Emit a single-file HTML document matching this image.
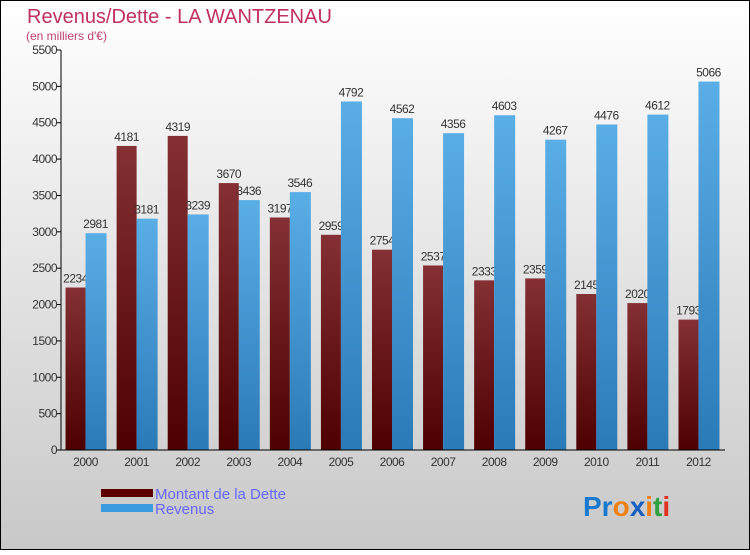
<!DOCTYPE html>
<html><head><meta charset="utf-8"><style>
body{margin:0}
svg text{font-family:"Liberation Sans",sans-serif}
</style></head><body>
<svg id="c" width="750" height="550" xmlns="http://www.w3.org/2000/svg">
<defs>
<linearGradient id="bg" x1="0" y1="0" x2="0" y2="1"><stop offset="0" stop-color="#ffffff"/><stop offset="1" stop-color="#c8c8c8"/></linearGradient>
<linearGradient id="gd" x1="0" y1="0" x2="0" y2="1"><stop offset="0" stop-color="#843034"/><stop offset="1" stop-color="#4e0000"/></linearGradient>
<linearGradient id="gr" x1="0" y1="0" x2="0" y2="1"><stop offset="0" stop-color="#5aaee6"/><stop offset="1" stop-color="#2a7ab8"/></linearGradient>
</defs>
<rect x="0.5" y="0.5" width="749" height="549" fill="url(#bg)" stroke="#000"/>
<text x="27" y="23" font-size="20" fill="#c03060">Revenus/Dette - LA WANTZENAU</text>
<text x="26" y="40" font-size="12" fill="#c04070">(en milliers d'€)</text>
<g id="plot"></g>
<g>
<rect x="101" y="489" width="52" height="8" fill="#5a0000"/>
<text x="155" y="499" font-size="15" fill="#6666ff">Montant de la Dette</text>
<rect x="101" y="504" width="52" height="8" fill="#3a9ae0"/>
<text x="155" y="514" font-size="15" fill="#6666ff">Revenus</text>
</g>
<text x="583" y="516" font-size="28" font-weight="bold"><tspan fill="#1a7ad0">Pr</tspan><tspan fill="#f08010">o</tspan><tspan fill="#1a60c0">x</tspan><tspan fill="#f08010">i</tspan><tspan fill="#30a040">t</tspan><tspan fill="#e03020">i</tspan></text>
</svg>
<script>
const years=["2000","2001","2002","2003","2004","2005","2006","2007","2008","2009","2010","2011","2012"];
const debt=[2234,4181,4319,3670,3197,2959,2754,2537,2333,2359,2145,2020,1793];
const revenue=[2981,3181,3239,3436,3546,4792,4562,4356,4603,4267,4476,4612,5066];
const yTicks=[0,500,1000,1500,2000,2500,3000,3500,4000,4500,5000,5500];
const NS="http://www.w3.org/2000/svg";
const g=document.getElementById('plot');
const x0=61,x1=725,yb=450,yt=50,ymax=5500;
const y=v=>yb-(v/ymax)*(yb-yt);
const step=(x1-x0)/years.length;
const cx=i=>x0+step*(i+0.5)-1;
const bw=20;
function el(t,a,txt){const e=document.createElementNS(NS,t);for(const k in a)e.setAttribute(k,a[k]);if(txt!=null)e.textContent=txt;g.appendChild(e);return e;}
yTicks.forEach(v=>{
 const t=el('line',{x1:x0-4,x2:x0,y1:y(v),y2:y(v),stroke:'#000'});
 
 
 const l=el('text',{x:x0-4,y:y(v)+4,'font-size':12,'text-anchor':'end',fill:'#333','letter-spacing':'-0.5'},v);
 
 
});
years.forEach((yr,i)=>{
 const c=cx(i);
 const b=el('rect',{x:c-bw,y:y(debt[i]),width:bw,height:yb-y(debt[i]),fill:'url(#gd)'});
 
 
 const t=el('text',{x:c-bw/2,y:y(debt[i])-5,'font-size':12,'text-anchor':'middle',fill:'#333','letter-spacing':'-0.5'},debt[i]);
 
 
});
years.forEach((yr,i)=>{
 const c=cx(i);
 const b=el('rect',{x:c,y:y(revenue[i]),width:bw+1,height:yb-y(revenue[i]),fill:'url(#gr)'});
 
 
 const t=el('text',{x:c+bw/2,y:y(revenue[i])-5,'font-size':12,'text-anchor':'middle',fill:'#333','letter-spacing':'-0.5'},revenue[i]);
 
 
 const xl=el('text',{x:c,y:yb+16,'font-size':12,'text-anchor':'middle',fill:'#333','letter-spacing':'-0.5'},yr);
 
 
});
const ya=el('line',{x1:x0,x2:x0,y1:yt,y2:yb,stroke:'#000'});


const xa=el('line',{x1:x0,x2:x1,y1:yb,y2:yb,stroke:'#000'});


</script>
</body></html>
